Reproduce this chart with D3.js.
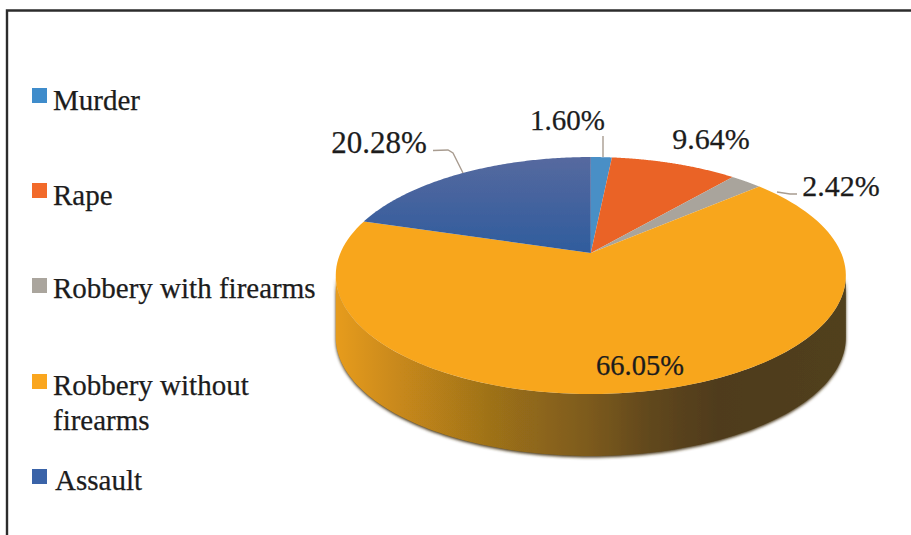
<!DOCTYPE html>
<html><head><meta charset="utf-8">
<script src="https://cdn.jsdelivr.net/npm/d3@7"></script>
<style>html,body{margin:0;padding:0;background:#fff}svg{display:block}text{font-family:"Liberation Serif",serif;fill:#1c1c1c;stroke:#1c1c1c;stroke-width:.25}</style>
</head><body><svg id="c" width="911" height="535"></svg>
<script>
const categories = ["Murder","Rape","Robbery with firearms","Robbery without firearms","Assault"];
const values = [1.60,9.64,2.42,66.05,20.28];
const valueLabels = ["1.60%","9.64%","2.42%","66.05%","20.28%"];
const colors = ["#4a8fc6","#ea6326","#a9a49c","#f8a61c","#3a60a0"];

const svg = d3.select("#c");
const defs = svg.append("defs");
const apex = [590.8,253], A = 250.4, B = 114.2, K = 0.19, depth = 62;
const project = t => {
  const u = Math.sin(t), v = -Math.cos(t), d = 1 - K*v;
  return [apex[0] + A*u/d, apex[1] + B*v/d];
};
const line = d3.line();
const arcPts = (a0,a1) => d3.range(0,121).map(i => project(a0+(a1-a0)*i/120));

// frame
svg.append("path").attr("d","M7 535V10.5H911").attr("fill","none").attr("stroke","#2c2c2c").attr("stroke-width",2.4);

// gradients and filter
const wg = defs.append("linearGradient").attr("id","wall").attr("gradientUnits","userSpaceOnUse")
  .attr("x1",335).attr("x2",846).attr("y1",0).attr("y2",0);
[[0,"#e79c1b"],[.12,"#c9891a"],[.3,"#9f7219"],[.5,"#7c5a1b"],[.62,"#60471c"],[.75,"#4f3b1a"],[1,"#51401c"]]
  .forEach(s => wg.append("stop").attr("offset",s[0]).attr("stop-color",s[1]));
const bg = defs.append("linearGradient").attr("id","blue").attr("x1",0).attr("x2",0).attr("y1",0).attr("y2",1);
bg.append("stop").attr("offset",0).attr("stop-color","#56699f");
bg.append("stop").attr("offset",1).attr("stop-color","#2f5c9d");
defs.append("filter").attr("id","soft").attr("x","-5%").attr("y","-5%").attr("width","110%").attr("height","110%")
  .append("feGaussianBlur").attr("stdDeviation",1.6);
defs.append("filter").attr("id","s1").append("feGaussianBlur").attr("stdDeviation",.5);

// extruded wall (front half of the rim) with a soft dark shadow beneath it
const rim = arcPts(Math.PI*0.56, Math.PI*1.44);
const wall = rim.concat(rim.slice().reverse().map(p=>[p[0],p[1]+depth]));
svg.append("path").attr("d",line(wall)+"Z").attr("fill","#4b3a1e").attr("transform","translate(0,1.5)").attr("filter","url(#soft)");
svg.append("path").attr("d",line(wall)+"Z").attr("fill","url(#wall)").attr("filter","url(#s1)");

// top slices
const pie = d3.pie().sort(null).value(d=>d);
const arcs = pie(values);
const g = svg.append("g").attr("filter","url(#s1)");
g.selectAll("path").data(arcs).join("path")
  .attr("d",d => line([apex].concat(arcPts(d.startAngle,d.endAngle)))+"Z")
  .attr("fill",(d,i)=> i===4 ? "url(#blue)" : colors[i]);

// leader lines
const leaders = [
  [[603,136],[603,157]],
  null,
  [[777,192],[790,194],[797,194]],
  null,
  [[433,150.5],[448,150],[453,153],[463,173]]
];
svg.append("g").selectAll("path").data(leaders.filter(Boolean)).join("path")
  .attr("d",d=>line(d)).attr("fill","none").attr("stroke","#a89c90").attr("stroke-width",1.4);

// value labels
const labelPos = [[567.5,130],[711,149],[841,196],[640,375],[379,153]];
const labelSize = [29,30,30,28.5,31];
svg.append("g").selectAll("text").data(valueLabels).join("text")
  .attr("x",(d,i)=>labelPos[i][0]).attr("y",(d,i)=>labelPos[i][1])
  .attr("text-anchor","middle").attr("font-size",(d,i)=>labelSize[i]).text(d=>d);

// legend
const markerY = [88,183,278,374,469];
const textY = [110,205,298,395,490];
const lg = svg.append("g").selectAll("g").data(categories).join("g");
lg.append("rect").attr("x",32).attr("y",(d,i)=>markerY[i]).attr("width",15).attr("height",15)
  .attr("fill",(d,i)=>["#3f8ccb","#f26a2a","#aaa59d","#faa61e","#3a63a8"][i]);
lg.append("text").attr("x",(d,i)=>i===4?55:53).attr("y",(d,i)=>textY[i]).attr("font-size",29)
  .text(d=>d==="Robbery without firearms"?"Robbery without":d);
svg.append("text").attr("x",53).attr("y",430).attr("font-size",29).text("firearms");
</script></body></html>
